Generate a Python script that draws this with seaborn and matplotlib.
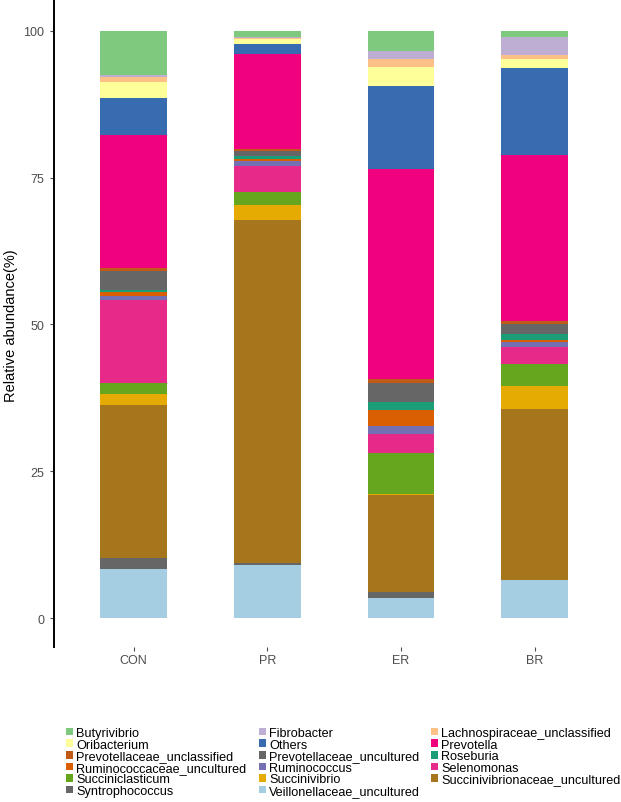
import matplotlib
matplotlib.use("Agg")
import matplotlib.pyplot as plt
import seaborn as sns
import pandas as pd
from matplotlib.patches import Patch

# ---- data ----
groups = ["CON", "PR", "ER", "BR"]
taxa = ["Butyrivibrio", "Fibrobacter", "Lachnospiraceae_unclassified",
        "Oribacterium", "Others", "Prevotella",
        "Prevotellaceae_unclassified", "Prevotellaceae_uncultured", "Roseburia",
        "Ruminococcaceae_uncultured", "Ruminococcus", "Selenomonas",
        "Succiniclasticum", "Succinivibrio", "Succinivibrionaceae_uncultured",
        "Syntrophococcus", "Veillonellaceae_uncultured"]
colors = ["#7FC97F", "#BEAED4", "#FDC086", "#FFFF99", "#386CB0", "#F0027F",
          "#BF5B17", "#666666", "#1B9E77", "#D95F02", "#7570B3", "#E7298A",
          "#66A61E", "#E6AB02", "#A6761D", "#666666", "#A6CEE3"]

# values per group, same order as taxa (percent)
con = [7.5, 0.4, 0.8, 2.7, 6.3, 22.7, 0.5, 3.2, 0.4, 0.7, 0.6, 14.2, 1.8, 1.9, 26.0, 1.9, 8.4]
pr  = [1.05, 0.15, 0.2, 0.9, 1.6, 16.2, 0.3, 1.0, 0.4, 0.4, 0.9, 4.3, 2.2, 2.6, 58.4, 0.4, 9.0]
er  = [3.4, 1.4, 1.3, 3.3, 14.2, 35.7, 0.6, 3.4, 1.2, 2.8, 1.3, 3.3, 6.9, 0.3, 16.45, 1.05, 3.4]
br  = [1.1, 3.0, 0.7, 1.6, 14.8, 28.2, 0.6, 1.7, 1.0, 0.3, 0.8, 3.0, 3.7, 3.9, 29.1, 0.1, 6.4]

values = {"CON": con, "PR": pr, "ER": er, "BR": br}

# long table with cumulative tops (stack: last taxon at bottom)
rows = []
for g in groups:
    v = values[g]
    cum = 0.0
    tops = {}
    for t, val in zip(reversed(taxa), reversed(v)):
        cum += val
        tops[t] = cum
    for t in taxa:
        rows.append({"group": g, "taxon": t, "top": tops[t]})
df = pd.DataFrame(rows)

sns.set_style("white")
plt.rcParams["font.family"] = ["Liberation Sans", "DejaVu Sans"]

fig = plt.figure(figsize=(6.21, 8.03), dpi=100)
ax = fig.add_axes([0.0862, 0.1925, 0.904, 0.8046])

# draw from top of stack downward so lower segments overlay
for t, c in zip(taxa, colors):
    sub = df[df["taxon"] == t]
    sns.barplot(data=sub, x="group", y="top", order=groups, color=c,
                saturation=1, width=0.5, errorbar=None, linewidth=0, ax=ax)

ax.set_xlim(-0.6, 3.6)
ax.set_ylim(-5, 105)
ax.set_yticks([0, 25, 50, 75, 100])
ax.set_xlabel("")
ax.set_ylabel("Relative abundance(%)", fontsize=10.5, color="black")
for s in ["top", "right", "bottom"]:
    ax.spines[s].set_visible(False)
ax.spines["left"].set_color("black")
ax.spines["left"].set_linewidth(1.4)
ax.tick_params(axis="both", colors="#4D4D4D", labelsize=9, length=3, width=0.8,
               left=True, bottom=True)
ax.tick_params(axis="x", pad=2)

# legend: 3 columns filled by row (as in ggplot)
handles = [Patch(facecolor=c, edgecolor="none", label=t) for t, c in zip(taxa, colors)]
col_x = [66, 259, 431]
for col in range(3):
    hs = handles[col::3]
    leg = fig.legend(handles=hs, loc="upper left",
                     bbox_to_anchor=(col_x[col] / 621, 1 - 728 / 803),
                     ncol=1, frameon=False, fontsize=9.1, handlelength=0.55,
                     handleheight=0.55, handletextpad=0.25, labelspacing=-0.03,
                     borderpad=0, borderaxespad=0)
    for txt in leg.get_texts():
        txt.set_color("black")

fig.savefig("out.png", dpi=100)
